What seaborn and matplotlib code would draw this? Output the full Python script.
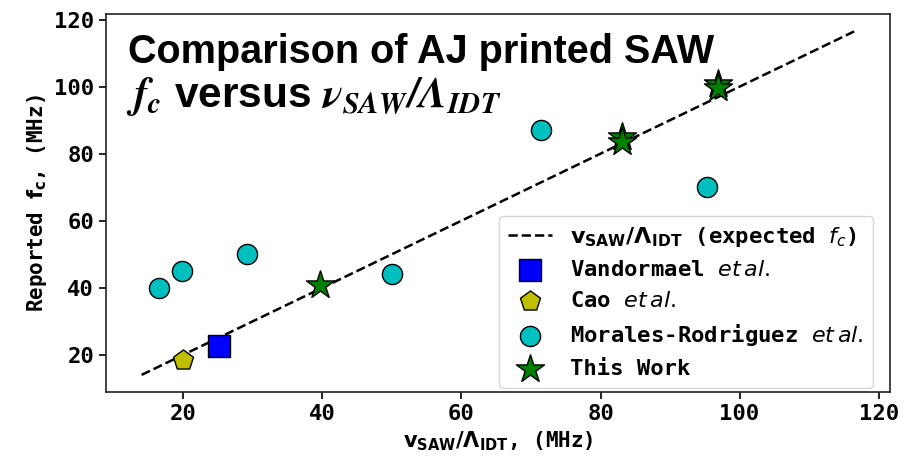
import numpy as np
import pandas as pd
import matplotlib
matplotlib.use("Agg")
import matplotlib.pyplot as plt
import seaborn as sns

# ============================================
# DATA
# ============================================
expected_x = [14.0, 116.5]          # v_SAW / Lambda_IDT, expected line f_c = x

vandormael_x = [25.2]
vandormael_y = [22.7]

cao_x = [20.0]
cao_y = [18.4]

morales_x = [16.5, 19.8, 29.1, 50.0, 71.5, 95.3]
morales_y = [40.0, 45.0, 50.0, 44.1, 87.2, 70.2]

this_work_x = [39.6, 83.1, 83.1, 96.9, 96.9]
this_work_y = [40.7, 85.0, 83.5, 100.8, 99.6]

# ============================================
# STYLE
# ============================================
sns.set_style("ticks")
plt.rcParams["font.family"] = ["DejaVu Sans Mono"]
plt.rcParams["text.color"] = "black"
plt.rcParams["axes.labelcolor"] = "black"
plt.rcParams["axes.edgecolor"] = "#222222"
plt.rcParams["xtick.color"] = "black"
plt.rcParams["ytick.color"] = "black"
plt.rcParams["mathtext.fontset"] = "custom"
plt.rcParams["mathtext.it"] = "STIXGeneral:bold:italic"
plt.rcParams["mathtext.rm"] = "STIXGeneral:bold:italic"
plt.rcParams["mathtext.bf"] = "STIXGeneral:bold:italic"

fig, ax = plt.subplots(figsize=(9.09, 4.58), dpi=100)
fig.subplots_adjust(left=0.1166, right=0.979, bottom=0.144, top=0.969)

sns.lineplot(x=expected_x, y=expected_x, ax=ax, color="black", linestyle="--",
             linewidth=1.8,
             label=r"$\mathbf{v_{SAW}/\Lambda_{IDT}}$ (expected $f_c$)")

groups = [
    (vandormael_x, vandormael_y, "s", "b", 230, r"Vandormael $et\,al.$"),
    (cao_x, cao_y, "p", "y", 230, r"Cao $et\,al.$"),
    (morales_x, morales_y, "o", "c", 210, r"Morales-Rodriguez $et\,al.$"),
    (this_work_x, this_work_y, "*", "g", 450, "This Work"),
]
for gx, gy, mk, col, size, lab in groups:
    sns.scatterplot(x=gx, y=gy, ax=ax, marker=mk, color=col, edgecolor="black",
                    linewidth=1.0, s=size, label=lab, zorder=3)

ax.set_xlabel(r"$\mathbf{v_{SAW}/\Lambda_{IDT}}$, (MHz)", fontsize=15, fontweight="bold")
ax.set_ylabel(r"Reported $\mathbf{f_c}$, (MHz)", fontsize=15, fontweight="bold")
ax.set_xticks([20, 40, 60, 80, 100, 120])
ax.set_yticks([20, 40, 60, 80, 100, 120])
ax.tick_params(labelsize=16, length=5, width=1.2)
for lbl in ax.get_xticklabels() + ax.get_yticklabels():
    lbl.set_fontweight("bold")
for sp in ax.spines.values():
    sp.set_linewidth(1.2)

# the mathtext pieces in labels/legend use DejaVu Sans
ax.xaxis.label.set_math_fontfamily("dejavusans")
ax.yaxis.label.set_math_fontfamily("dejavusans")

leg = ax.legend(loc="lower right", bbox_to_anchor=(0.978, 0.0106), borderaxespad=0,
                prop={"family": "DejaVu Sans Mono", "weight": "bold", "size": 16})
for t in leg.get_texts():
    t.set_math_fontfamily("dejavusans")

ax.text(0.028, 0.870, "Comparison of AJ printed SAW", transform=ax.transAxes,
        fontsize=28.5, fontweight="bold", family="Liberation Sans", va="baseline")
ax.text(0.025, 0.755, r"$f_c$ versus $\nu_{SAW}/\Lambda_{IDT}$", transform=ax.transAxes,
        fontsize=30.5, fontweight="bold", family="Liberation Sans", va="baseline",
        math_fontfamily="custom")

fig.savefig("out.png", dpi=100)
